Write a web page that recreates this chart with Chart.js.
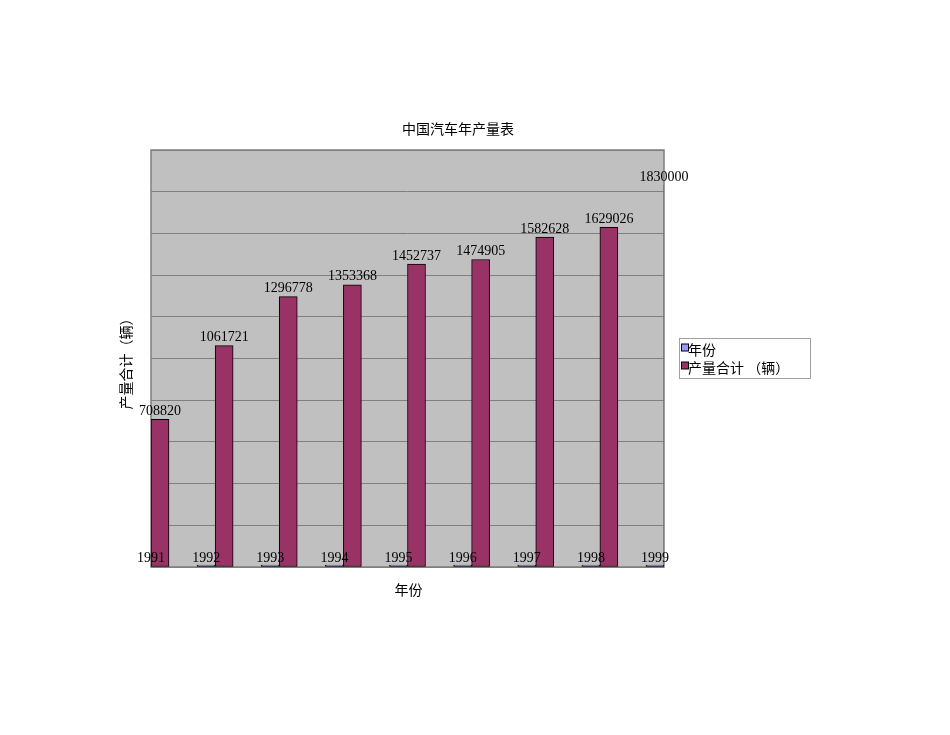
<!DOCTYPE html>
<html>
<head>
<meta charset="utf-8">
<title>中国汽车年产量表</title>
<script src="https://cdn.jsdelivr.net/npm/chart.js@4.4.1/dist/chart.umd.min.js"></script>
<style>
    html, body { margin: 0; padding: 0; background: #fff; }
    #wrap { width: 950px; height: 735px; }
</style>
</head>
<body>
<div id="wrap"><canvas id="chart" width="950" height="735"></canvas></div>
<script>
// data
const years = ['1991', '1992', '1993', '1994', '1995', '1996', '1997', '1998', '1999']
const yearValues = [1991, 1992, 1993, 1994, 1995, 1996, 1997, 1998, 1999]
const output = [708820, 1061721, 1296778, 1353368, 1452737, 1474905, 1582628, 1629026, 1830000]
const seriesNames = ['年份', '产量合计 （辆）']
const seriesColors = ['#9999ff', '#993366']
const chartTitle = '中国汽车年产量表'
const xTitle = '年份'
const yTitle = '产量合计（辆）'
const yMax = 2000000
const yStep = 200000

const CJK = '14px "Noto Sans CJK SC", sans-serif'
const NUM = '14px "Liberation Serif", "Times New Roman", serif'

// excel-ish look: grey plot area, frame, value labels, title, legend
const excelLook = {
    id: 'excelLook',
    beforeDraw: chart => {
        const { ctx, chartArea: a } = chart
        ctx.save()
        ctx.fillStyle = '#c0c0c0'
        ctx.fillRect(a.left, a.top, a.right - a.left, a.bottom - a.top)
        ctx.restore()
    },
    beforeDatasetsDraw: chart => {
        const { ctx, chartArea: a } = chart
        ctx.save()
        ctx.strokeStyle = '#7f7f7f'
        ctx.lineWidth = 1.5
        ctx.strokeRect(a.left, a.top, a.right - a.left, a.bottom - a.top)
        ctx.restore()
    },
    afterDraw: chart => {
        const { ctx, chartArea: a } = chart
        const yScale = chart.scales.y
        ctx.save()
        ctx.fillStyle = '#000'

        // value labels above each bar, kept inside the plot horizontally
        ctx.font = NUM
        ctx.textAlign = 'center'
        ctx.textBaseline = 'alphabetic'
        chart.data.datasets.forEach((ds, i) => {
            chart.getDatasetMeta(i).data.forEach((bar, j) => {
                const x = Math.min(Math.max(bar.x, a.left), a.right)
                const y = yScale.getPixelForValue(ds.data[j]) - 4.5
                ctx.fillText(String(ds.data[j]), x, y)
            })
        })

        // title and axis titles
        ctx.font = CJK
        ctx.textBaseline = 'middle'
        ctx.fillText(chartTitle, 458, 129)
        ctx.fillText(xTitle, (a.left + a.right) / 2 + 1, 590)
        ctx.save()
        ctx.translate(126, (a.top + a.bottom) / 2 + 2)
        ctx.rotate(-Math.PI / 2)
        ctx.fillText(yTitle, 0, 0)
        ctx.restore()

        // legend box
        ctx.fillStyle = '#fff'
        ctx.fillRect(679.5, 338.5, 131, 40)
        ctx.strokeStyle = '#a0a0a0'
        ctx.lineWidth = 1
        ctx.strokeRect(679.5, 338.5, 131, 40)
        ctx.textAlign = 'left'
        seriesNames.forEach((name, i) => {
            const y = 349.5 + i * 18
            ctx.fillStyle = seriesColors[i]
            ctx.fillRect(681.5, y - 5.5, 7, 7)
            ctx.strokeStyle = '#000'
            ctx.strokeRect(681.5, y - 5.5, 7, 7)
            ctx.fillStyle = '#000'
            ctx.fillText(name, 688, y)
        })
        ctx.restore()
    }
}

const ctx = document.getElementById('chart').getContext('2d')
const chart = new Chart(ctx, {
    type: 'bar',
    data: {
        labels: years,
        datasets: [
            {
                label: seriesNames[0],
                data: yearValues,
                backgroundColor: seriesColors[0],
                borderColor: '#000',
                borderWidth: 1,
                borderSkipped: false,
                minBarLength: 2,
                barThickness: 18,
                clip: 0
            },
            {
                label: seriesNames[1],
                data: output,
                backgroundColor: seriesColors[1],
                borderColor: '#000',
                borderWidth: 1,
                borderSkipped: false,
                barThickness: 18,
                clip: 0
            }
        ]
    },
    options: {
        responsive: false,
        maintainAspectRatio: false,
        animation: false,
        layout: {
            padding: { left: 151, top: 150, right: 286, bottom: 168 }
        },
        plugins: {
            legend: { display: false },
            title: { display: false },
            tooltip: { enabled: false }
        },
        scales: {
            x: {
                type: 'category',
                offset: false,
                display: false
            },
            y: {
                min: 0,
                max: yMax,
                ticks: { display: false, stepSize: yStep },
                grid: { color: '#808080', drawTicks: false },
                border: { display: false }
            }
        }
    },
    plugins: [excelLook]
})
</script>
</body>
</html>
